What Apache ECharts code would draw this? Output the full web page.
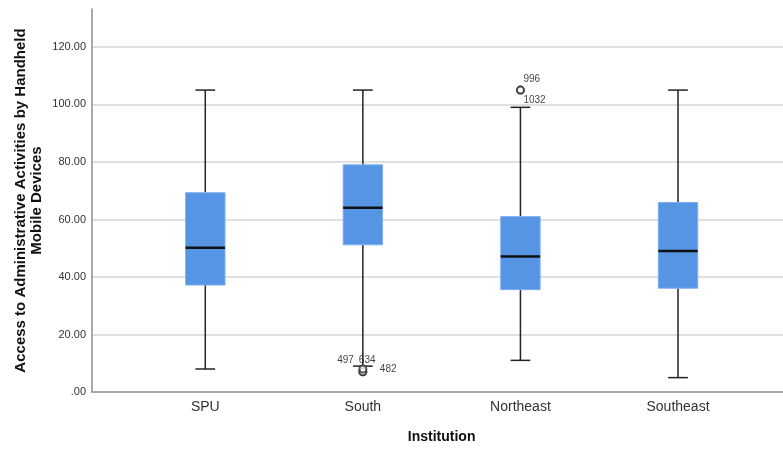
<!DOCTYPE html>
<html>
<head>
<meta charset="utf-8">
<script src="https://cdn.jsdelivr.net/npm/echarts@6/dist/echarts.min.js"></script>
<style>
html,body{margin:0;padding:0;background:#fff;}
#chart{width:783px;height:451px;}
</style>
</head>
<body>
<div id="chart"></div>
<script>
// ---- data ----
var categories = ['SPU', 'South', 'Northeast', 'Southeast'];
var whiskerLow  = [8, 9, 11, 5];
var q1Values    = [37.2, 51.2, 35.6, 36.1];
var medians     = [50.2, 64.1, 47.1, 49.0];
var q3Values    = [69.3, 79.0, 61.0, 65.9];
var whiskerHigh = [105, 105, 99, 105];

var outlierCats   = ['South', 'South', 'South', 'Northeast', 'Northeast'];
var outlierValues = [7, 7, 8, 105, 105];
var outlierIds    = ['497', '634', '482', '996', '1032'];

var yTicks = [0, 20, 40, 60, 80, 100, 120];

// ---- label layout (style only) ----
var outlierLabelLayout = [
  {align: 'right', offset: [-9, -12]},
  {align: 'left',  offset: [-4, -12]},
  {align: 'left',  offset: [17, 0]},
  {align: 'left',  offset: [3, -11]},
  {align: 'left',  offset: [3, 10]}
];

var FONT = '"Liberation Sans", Arial, sans-serif';
var Y_MAX = 133.2;

var boxData = categories.map(function (c, i) {
  return [i, whiskerLow[i], q1Values[i], medians[i], q3Values[i], whiskerHigh[i]];
});

var outlierData = outlierIds.map(function (id, i) {
  var l = outlierLabelLayout[i];
  return {
    name: id,
    value: [outlierCats[i], outlierValues[i]],
    label: {
      show: true, position: 'inside', align: l.align, verticalAlign: 'middle',
      offset: l.offset, formatter: id, fontSize: 10, color: '#111', fontFamily: FONT
    }
  };
});

var chart = echarts.init(document.getElementById('chart'), null, {renderer: 'canvas'});
chart.setOption({
  animation: false,
  backgroundColor: '#fff',
  grid: [
    {left: 92, right: 0, top: 9, bottom: 59},
    {left: 126.5, right: 26.2, top: 9, bottom: 59}
  ],
  xAxis: [
    {
      gridIndex: 0, type: 'value', min: 0, max: 1,
      axisLine: {show: true, lineStyle: {color: '#8c8c8c', width: 1.5}},
      axisTick: {show: false}, axisLabel: {show: false}, splitLine: {show: false}
    },
    {
      gridIndex: 1, type: 'category', data: categories,
      axisLine: {show: false}, axisTick: {show: false}, splitLine: {show: false},
      axisLabel: {fontSize: 14, color: '#333', margin: 8, fontFamily: FONT},
      name: 'Institution', nameLocation: 'middle', nameGap: 38,
      nameTextStyle: {fontSize: 14, fontWeight: 'bold', color: '#111', fontFamily: FONT}
    }
  ],
  yAxis: [
    {
      gridIndex: 0, type: 'value', min: 0, max: Y_MAX, interval: 20,
      axisLine: {show: true, lineStyle: {color: '#8c8c8c', width: 1.5}},
      axisTick: {show: false},
      axisLabel: {
        fontSize: 11, color: '#333', margin: 6, fontFamily: FONT, showMaxLabel: false,
        formatter: function (v) {
          if (yTicks.indexOf(v) < 0) return '';
          return v === 0 ? '.00' : v.toFixed(2);
        }
      },
      splitLine: {show: true, showMinLine: false, showMaxLine: false, lineStyle: {color: '#d6d6d6', width: 1.5}},
      name: 'Access to Administrative Activities by Handheld\nMobile Devices',
      nameLocation: 'middle', nameGap: 47, nameRotate: 90, nameMoveOverlap: false,
      nameTextStyle: {fontSize: 15, fontWeight: 'bold', color: '#111', lineHeight: 16, fontFamily: FONT}
    },
    {
      gridIndex: 1, type: 'value', min: 0, max: Y_MAX, interval: 20, show: false
    }
  ],
  series: [
    {
      type: 'custom', xAxisIndex: 1, yAxisIndex: 1,
      data: boxData,
      renderItem: function (params, api) {
        var idx = api.value(0);
        var lo = api.coord([idx, api.value(1)]);
        var q1 = api.coord([idx, api.value(2)]);
        var md = api.coord([idx, api.value(3)]);
        var q3 = api.coord([idx, api.value(4)]);
        var hi = api.coord([idx, api.value(5)]);
        var band = api.size([1, 0])[0];
        var bw = band * 0.25;
        var cw = bw / 2;
        var x = lo[0];
        var ws = {stroke: '#222', lineWidth: 1.5};
        return {
          type: 'group',
          children: [
            {type: 'line', shape: {x1: x, y1: hi[1], x2: x, y2: q3[1]}, style: ws},
            {type: 'line', shape: {x1: x, y1: q1[1], x2: x, y2: lo[1]}, style: ws},
            {type: 'line', shape: {x1: x - cw / 2, y1: hi[1], x2: x + cw / 2, y2: hi[1]}, style: ws},
            {type: 'line', shape: {x1: x - cw / 2, y1: lo[1], x2: x + cw / 2, y2: lo[1]}, style: ws},
            {type: 'rect', shape: {x: x - bw / 2, y: q3[1], width: bw, height: q1[1] - q3[1]},
              style: {fill: '#5694e4', stroke: '#7eaef0', lineWidth: 1}},
            {type: 'line', shape: {x1: x - bw / 2, y1: md[1], x2: x + bw / 2, y2: md[1]},
              style: {stroke: '#111', lineWidth: 2.5}}
          ]
        };
      }
    },
    {
      type: 'scatter', xAxisIndex: 1, yAxisIndex: 1,
      symbol: 'emptyCircle', symbolSize: 7,
      itemStyle: {color: '#333', borderWidth: 1},
      data: outlierData,
      z: 5
    }
  ]
});
</script>
</body>
</html>
